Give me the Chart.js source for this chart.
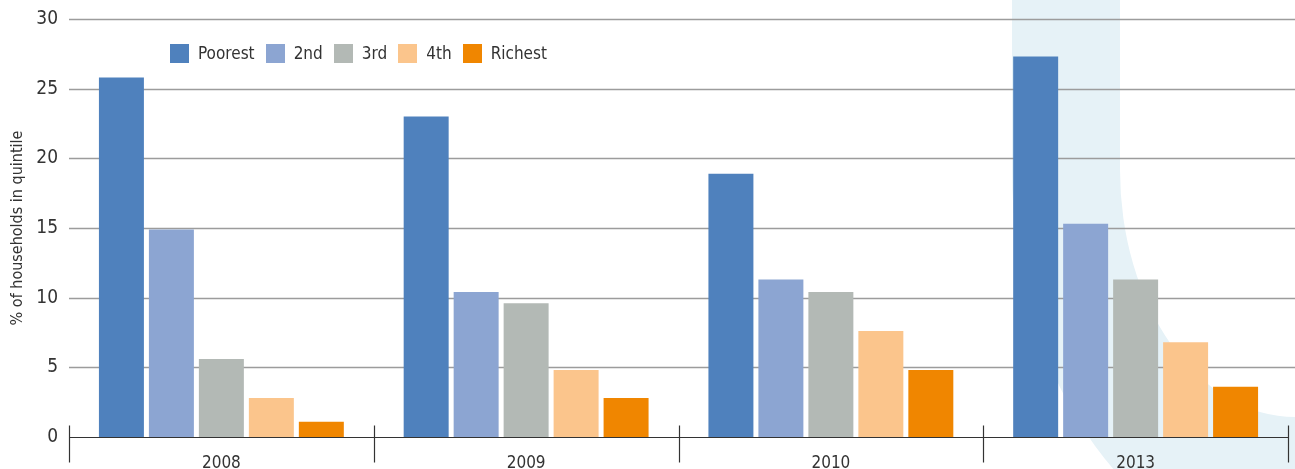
<!DOCTYPE html>
<html lang="en">
<head>
    <meta charset="UTF-8">
    <title>Households by quintile</title>
    <script src="https://cdn.jsdelivr.net/npm/chart.js"></script>
    <style>
        html, body { margin: 0; padding: 0; background: #fff; }
        .wrap { position: relative; width: 1295px; height: 469px; }
        #legend {
            position: absolute; left: 170px; top: 43px;
            display: flex; align-items: center;
            font-family: 'Liberation Sans Narrow', 'DejaVu Sans Condensed', sans-serif;
            font-size: 17px; color: #333;
        }
        #legend .item { display: flex; align-items: center; margin-right: 11px; }
        #legend .box { width: 19px; height: 19px; margin-right: 9px; }
    </style>
</head>
<body>
    <div class="wrap">
        <canvas id="barChart" width="1295" height="469"></canvas>
        <div id="legend"></div>
    </div>

    <script>
        // Data
        const years = ['2008', '2009', '2010', '2013'];
        const quintiles = ['Poorest', '2nd', '3rd', '4th', 'Richest'];
        const poorest = [25.8, 23.0, 18.9, 27.3];
        const second = [14.9, 10.4, 11.3, 15.3];
        const third = [5.6, 9.6, 10.4, 11.3];
        const fourth = [2.8, 4.8, 7.6, 6.8];
        const richest = [1.1, 2.8, 4.8, 3.6];
        const yTicks = [0, 5, 10, 15, 20, 25, 30];

        const colors = ['#4f81bd', '#8ca5d2', '#b3b9b5', '#fbc58c', '#f08600'];
        const fontFamily = "'Liberation Sans Narrow', 'DejaVu Sans Condensed', sans-serif";

        const series = [poorest, second, third, fourth, richest];
        const datasets = series.map(function(values, i) {
            return {
                label: quintiles[i],
                data: values,
                backgroundColor: colors[i],
                categoryPercentage: 0.82,
                barPercentage: 0.9
            };
        });

        // Light blue ribbon behind the 2013 group
        const ribbon = {
            id: 'ribbon',
            beforeDraw: function(chart) {
                const c = chart.ctx;
                const w = chart.width;
                c.save();
                c.fillStyle = '#e6f2f7';
                c.beginPath();
                c.moveTo(1012, 0);
                c.lineTo(1012, 170);
                c.ellipse(w, 170, w - 1012, 390, 0, Math.PI, Math.PI / 2, true);
                c.lineTo(w, 417);
                c.ellipse(w, 170, w - 1120, 247, 0, Math.PI / 2, Math.PI, false);
                c.lineTo(1120, 0);
                c.closePath();
                c.fill();
                c.restore();
            }
        };

        // Horizontal gridlines running to the right edge
        const gridLines = {
            id: 'gridLines',
            beforeDatasetsDraw: function(chart) {
                const c = chart.ctx;
                const y = chart.scales.y;
                const left = chart.chartArea.left;
                c.save();
                c.strokeStyle = '#9c9c9c';
                c.lineWidth = 1.3;
                yTicks.forEach(function(v) {
                    if (v === 0) return;
                    const py = Math.round(y.getPixelForValue(v)) + 0.5;
                    c.beginPath();
                    c.moveTo(left, py);
                    c.lineTo(chart.width, py);
                    c.stroke();
                });
                c.restore();
            }
        };

        // Baseline and group separators
        const baseAxis = {
            id: 'baseAxis',
            afterDatasetsDraw: function(chart) {
                const c = chart.ctx;
                const x = chart.scales.x;
                const area = chart.chartArea;
                const py = Math.round(chart.scales.y.getPixelForValue(0)) + 0.5;
                const step = x.getPixelForValue(1) - x.getPixelForValue(0);
                c.save();
                c.strokeStyle = '#333';
                c.lineWidth = 1.2;
                c.beginPath();
                c.moveTo(area.left, py);
                c.lineTo(area.right, py);
                c.stroke();
                for (let i = 0; i <= years.length; i++) {
                    const px = Math.round(x.getPixelForValue(0) - step / 2 + i * step) + 0.5;
                    c.beginPath();
                    c.moveTo(px, py - 12);
                    c.lineTo(px, py + 25);
                    c.stroke();
                }
                c.restore();
            }
        };

        new Chart(document.getElementById('barChart'), {
            type: 'bar',
            data: { labels: years, datasets: datasets },
            plugins: [ribbon, gridLines, baseAxis],
            options: {
                responsive: false,
                animation: false,
                layout: { padding: { top: 19, right: 7, left: 0, bottom: 0 } },
                scales: {
                    x: {
                        grid: { display: false, drawTicks: false },
                        border: { display: false },
                        ticks: {
                            color: '#333',
                            padding: 16,
                            font: { family: fontFamily, size: 17 }
                        },
                        afterFit: function(scale) { scale.height = 32; }
                    },
                    y: {
                        min: 0,
                        max: 30,
                        grid: { display: false, drawTicks: false },
                        border: { display: false },
                        ticks: {
                            stepSize: 5,
                            padding: 11,
                            color: '#333',
                            font: { family: fontFamily, size: 19 }
                        },
                        title: {
                            display: true,
                            text: '% of households in quintile',
                            color: '#333',
                            padding: { top: 8, bottom: 0 },
                            font: { family: fontFamily, size: 16 }
                        },
                        afterFit: function(scale) {
                            scale.width = 69;
                            scale.paddingTop = 0;
                            scale.paddingBottom = 0;
                        }
                    }
                },
                plugins: {
                    legend: { display: false },
                    tooltip: { enabled: false }
                }
            }
        });

        // HTML legend
        const legend = document.getElementById('legend');
        quintiles.forEach(function(name, i) {
            const item = document.createElement('div');
            item.className = 'item';
            item.innerHTML = '<span class="box" style="background:' + colors[i] + '"></span><span>' + name + '</span>';
            legend.appendChild(item);
        });
    </script>
</body>
</html>
